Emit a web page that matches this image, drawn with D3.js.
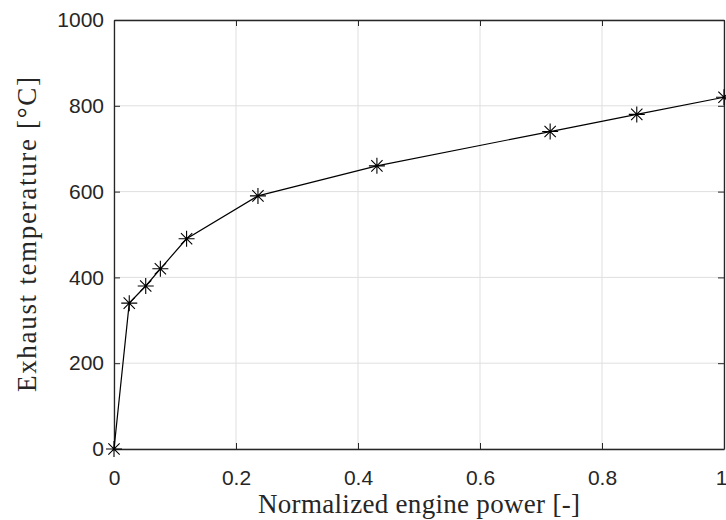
<!DOCTYPE html>
<html>
<head>
<meta charset="utf-8">
<script src="https://cdn.jsdelivr.net/npm/d3@7"></script>
<style>
  body { margin: 0; background: #fff; }
  .tick text { font-family: "Liberation Sans", Arial, sans-serif; font-size: 21px; fill: #262626; }
  .lbl { font-family: "Liberation Serif", "DejaVu Serif", serif; font-size: 27px; fill: #262626; }
</style>
</head>
<body>
<div id="chart"></div>
<script>
// values
const power = [0, 0.025, 0.052, 0.076, 0.119, 0.236, 0.431, 0.715, 0.857, 1.0];
const temperature = [0, 340, 380, 420, 490, 590, 660, 740, 780, 820];
const xTicks = [0, 0.2, 0.4, 0.6, 0.8, 1];
const yTicks = [0, 200, 400, 600, 800, 1000];

const W = 726, H = 520;
const margin = {top: 20, right: 2, bottom: 71, left: 114};
const width = W - margin.left - margin.right;
const height = H - margin.top - margin.bottom;

const svg = d3.select("#chart").append("svg")
    .attr("width", W)
    .attr("height", H)
  .append("g")
    .attr("transform", "translate(" + margin.left + "," + margin.top + ")");

const x = d3.scaleLinear().domain([0, 1]).range([0, width]);
const y = d3.scaleLinear().domain([0, 1000]).range([height, 0]);

// grid
svg.append("g").selectAll("line")
  .data(xTicks).enter().append("line")
    .attr("x1", d => x(d)).attr("x2", d => x(d))
    .attr("y1", 0).attr("y2", height)
    .attr("stroke", "#dfdfdf").attr("stroke-width", 1);
svg.append("g").selectAll("line")
  .data(yTicks).enter().append("line")
    .attr("x1", 0).attr("x2", width)
    .attr("y1", d => y(d)).attr("y2", d => y(d))
    .attr("stroke", "#dfdfdf").attr("stroke-width", 1);

// axes (box on, ticks inside)
const xAxis = d3.axisBottom(x).tickValues(xTicks).tickFormat(d3.format("~g"))
    .tickSizeInner(-6).tickSizeOuter(0).tickPadding(21);
const yAxis = d3.axisLeft(y).tickValues(yTicks).tickFormat(d3.format("d"))
    .tickSizeInner(-6).tickSizeOuter(0).tickPadding(10);

const gx = svg.append("g").attr("transform", "translate(0," + height + ")").call(xAxis);
const gy = svg.append("g").call(yAxis);
const gxTop = svg.append("g").call(d3.axisTop(x).tickValues(xTicks).tickFormat("").tickSizeInner(-6).tickSizeOuter(0));
const gyRight = svg.append("g").attr("transform", "translate(" + width + ",0)")
    .call(d3.axisRight(y).tickValues(yTicks).tickFormat("").tickSizeInner(-6).tickSizeOuter(0));

[gx, gy, gxTop, gyRight].forEach(g => {
  g.select(".domain").attr("stroke", "#262626").attr("stroke-width", 1.3);
  g.selectAll(".tick line").attr("stroke", "#262626");
});

// last x tick label sits against the window edge
gx.selectAll(".tick text").filter(d => d === 1).attr("dx", -3);

// line
const line = d3.line()
    .x((d, i) => x(power[i]))
    .y(d => y(d));

svg.append("path")
    .datum(temperature)
    .attr("fill", "none")
    .attr("stroke", "#000")
    .attr("stroke-width", 1.2)
    .attr("d", line);

// asterisk markers
const r = 8;
const mk = svg.append("g").selectAll("g")
  .data(temperature).enter().append("g")
    .attr("transform", (d, i) => "translate(" + x(power[i]) + "," + y(d) + ")");
mk.append("path")
    .attr("d", () => {
      const s = r * Math.SQRT1_2;
      return "M0," + (-r) + "V" + r + "M" + (-r) + ",0H" + r +
        "M" + (-s) + "," + (-s) + "L" + s + "," + s +
        "M" + (-s) + "," + s + "L" + s + "," + (-s);
    })
    .attr("stroke", "#000").attr("stroke-width", 1.1).attr("fill", "none");

// labels
svg.append("text").attr("class", "lbl")
    .attr("x", width / 2).attr("y", height + 64)
    .attr("text-anchor", "middle")
    .attr("textLength", 322).attr("lengthAdjust", "spacing")
    .text("Normalized engine power [-]");
svg.append("text").attr("class", "lbl")
    .attr("transform", "translate(" + (-78) + "," + (height / 2) + ") rotate(-90)")
    .attr("text-anchor", "middle")
    .attr("textLength", 315).attr("lengthAdjust", "spacing")
    .text("Exhaust temperature [°C]");
</script>
</body>
</html>
